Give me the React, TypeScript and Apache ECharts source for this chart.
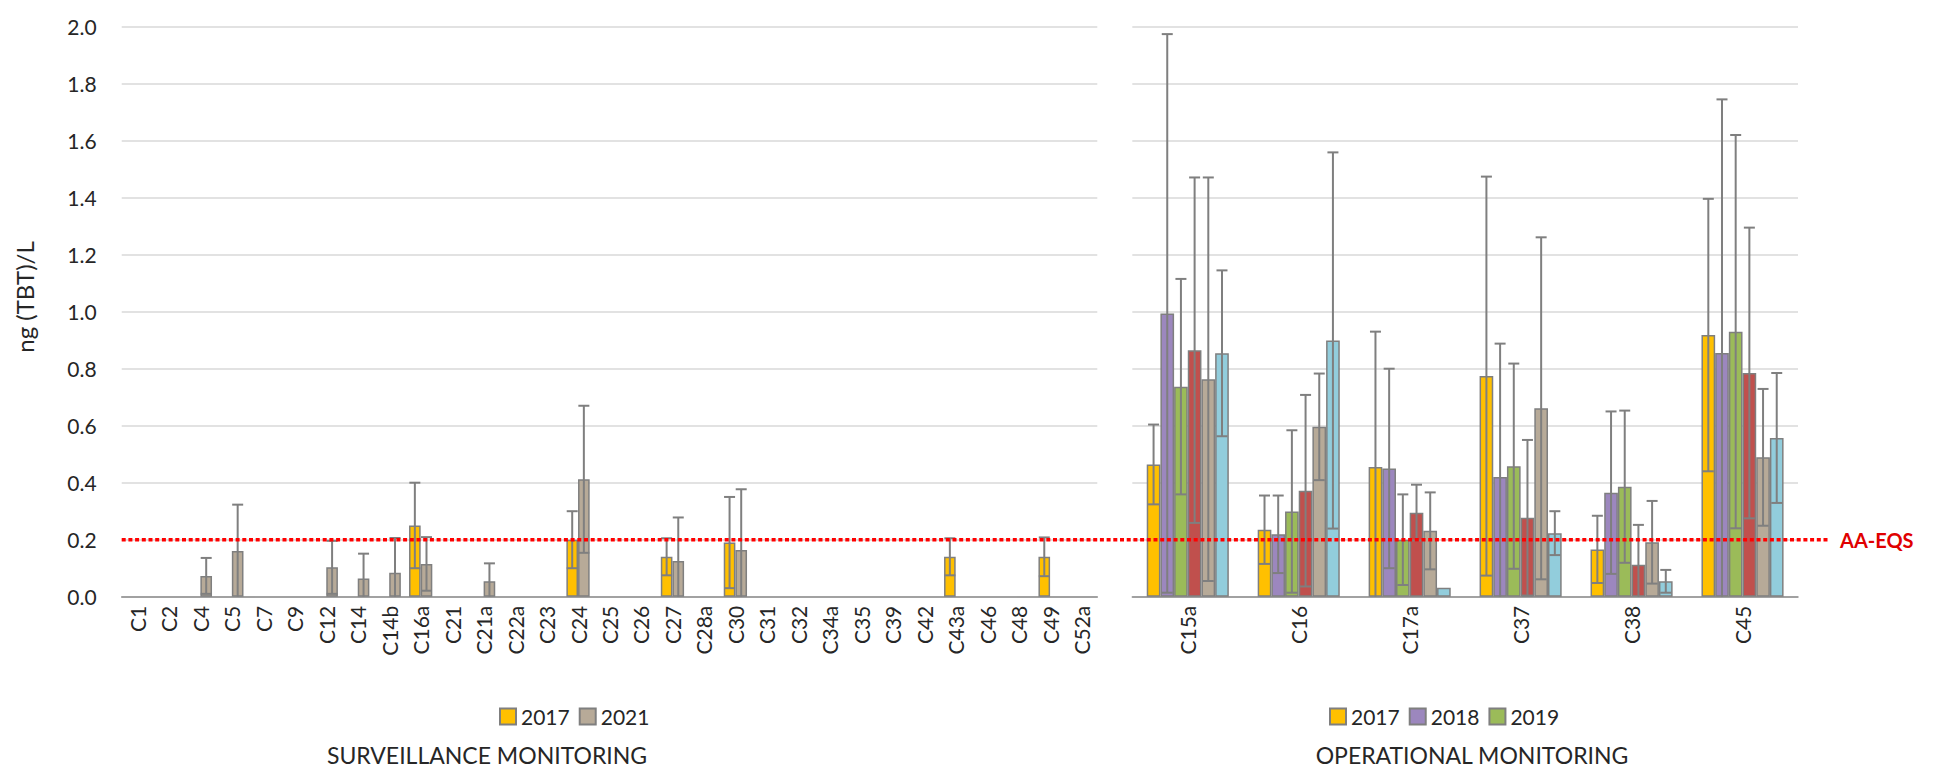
import React, { useEffect, useRef } from "react";
import * as echarts from "echarts";

// ---------- data ----------
const survCategories = ["C1","C2","C4","C5","C7","C9","C12","C14","C14b","C16a","C21","C21a","C22a","C23","C24","C25","C26","C27","C28a","C30","C31","C32","C34a","C35","C39","C42","C43a","C46","C48","C49","C52a"];
const surv2017 =    [null,null,null,null,null,null,null,null,null,0.25,null,null,null,null,0.20,null,null,0.14,null,0.19,null,null,null,null,null,null,0.14,null,null,0.14,null];
const surv2017Err = [null,null,null,null,null,null,null,null,null,0.15,null,null,null,null,0.10,null,null,0.065,null,0.16,null,null,null,null,null,null,0.065,null,null,0.068,null];
const surv2021 =    [null,null,0.073,0.16,null,null,0.103,0.064,0.084,0.115,null,0.054,null,null,0.412,null,null,0.125,null,0.164,null,null,null,null,null,null,null,null,null,null,null];
const surv2021Err = [null,null,0.063,0.163,null,null,0.093,0.087,0.122,0.094,null,0.063,null,null,0.258,null,null,0.153,null,0.213,null,null,null,null,null,null,null,null,null,null,null];

const operCategories = ["C15a","C16","C17a","C37","C38","C45"];
const oper2017 = [0.464, 0.235, 0.455, 0.774, 0.166, 0.918];
const oper2017Err = [0.14, 0.12, 0.475, 0.70, 0.118, 0.478];
const oper2018 = [0.994, 0.219, 0.45, 0.42, 0.365, 0.855];
const oper2018Err = [0.98, 0.136, 0.35, 0.468, 0.285, 0.89];
const oper2019 = [0.737, 0.299, 0.2, 0.458, 0.386, 0.93];
const oper2019Err = [0.378, 0.285, 0.159, 0.36, 0.267, 0.69];
const oper2020 = [0.865, 0.372, 0.295, 0.277, 0.112, 0.785];
const oper2020Err = [0.606, 0.336, 0.098, 0.273, 0.14, 0.51];
const oper2021 = [0.763, 0.596, 0.231, 0.661, 0.191, 0.489];
const oper2021Err = [0.708, 0.187, 0.135, 0.6, 0.145, 0.24];
const oper2022 = [0.854, 0.899, 0.031, 0.223, 0.054, 0.557];
const oper2022Err = [0.291, 0.66, 0, 0.077, 0.04, 0.228];

const yTicks = { min: 0, max: 2, interval: 0.2 };
const AA_EQS = 0.2;

const survLegend = ["2017", "2021"];
const operLegend = ["2017", "2018", "2019"];

// ---------- styles ----------
const COLORS: Record<string, string> = {
  "2017": "#FFC000",
  "2018": "#9C87BE",
  "2019": "#9BBB59",
  "2020": "#C0504D",
  "2021": "#B7AA98",
  "2022": "#92CDDC",
};
const FONT = "Lato, 'Liberation Sans', sans-serif";
const TEXT = "#262626";
const GRAY = "#7F7F7F";
const CAT_GAP = 0.26;

type Row = [number, number, number];

function errData(vals: (number | null)[], errs: (number | null)[]): Row[] {
  const out: Row[] = [];
  vals.forEach((v, i) => {
    const e = errs[i];
    if (v != null && e != null && e > 0) out.push([i, v, e]);
  });
  return out;
}

function errSeries(axis: number, k: number, n: number, data: Row[]) {
  return {
    type: "custom",
    xAxisIndex: axis,
    yAxisIndex: axis,
    z: 5,
    silent: true,
    encode: { x: 0, y: 1 },
    data,
    renderItem: (params: any, api: any) => {
      const cat = api.value(0);
      const v = api.value(1);
      const e = api.value(2);
      const base = api.coord([cat, 0]);
      const band = api.size([1, 0])[0];
      const groupW = band * (1 - CAT_GAP);
      const bw = groupW / n;
      const x = base[0] - groupW / 2 + bw * (k + 0.5);
      const yHi = api.coord([cat, v + e])[1];
      const lo = v - e;
      const yLo = api.coord([cat, Math.max(lo, 0)])[1];
      const cap = 5.5;
      const st = { stroke: GRAY, lineWidth: 2 };
      const children: any[] = [
        { type: "line", shape: { x1: x, y1: yLo, x2: x, y2: yHi }, style: st },
        { type: "line", shape: { x1: x - cap, y1: yHi, x2: x + cap, y2: yHi }, style: st },
      ];
      if (lo >= 0) {
        children.push({ type: "line", shape: { x1: x - cap, y1: yLo, x2: x + cap, y2: yLo }, style: st });
      }
      return { type: "group", children };
    },
  };
}

function barSeries(name: string, axis: number, data: (number | null)[]) {
  return {
    type: "bar",
    name,
    xAxisIndex: axis,
    yAxisIndex: axis,
    data: data.map((v) => (v == null ? "-" : v)),
    barGap: "0%",
    barCategoryGap: `${CAT_GAP * 100}%`,
    itemStyle: { color: COLORS[name], borderColor: GRAY, borderWidth: 1.5 },
    z: 2,
  };
}

const W = 1949;
const H = 773;
const PLOT_TOP = 26.7;
const PLOT_BOTTOM = 596.7;
const LEFT_X0 = 121.7;
const LEFT_X1 = 1097.3;
const RIGHT_X0 = 1132.3;
const RIGHT_X1 = 1798;

export default function App() {
  const ref = useRef<HTMLDivElement>(null);

  useEffect(() => {
    document.body.style.margin = "0";
    if (!ref.current) return;
    const chart = echarts.init(ref.current, undefined, { renderer: "svg" });

    const xAxisCommon = (cats: string[], grid: number) => ({
      type: "category",
      gridIndex: grid,
      data: cats,
      axisLine: { lineStyle: { color: "#8C8C8C", width: 1.5 } },
      axisTick: { length: 7, lineStyle: { color: "#8C8C8C", width: 1.5 } },
      axisLabel: { rotate: 90, interval: 0, fontSize: 21, fontFamily: FONT, color: TEXT, margin: 9 },
    });
    const yAxisCommon = (grid: number, showLabels: boolean) => ({
      type: "value",
      gridIndex: grid,
      min: yTicks.min,
      max: yTicks.max,
      interval: yTicks.interval,
      axisLine: { show: false },
      axisTick: { show: false },
      splitLine: { lineStyle: { color: "#D9D9D9", width: 1.5 } },
      axisLabel: {
        show: showLabels,
        fontSize: 21,
        fontFamily: FONT,
        color: TEXT,
        margin: 25,
        formatter: (v: number) => v.toFixed(1),
      },
    });

    const legendCommon = {
      itemWidth: 16,
      itemHeight: 16,
      itemGap: 9,
      icon: "rect",
      textStyle: { fontSize: 21, fontFamily: FONT, color: TEXT },
      selectedMode: false,
    };

    const option: any = {
      animation: false,
      grid: [
        { left: LEFT_X0, right: W - LEFT_X1, top: PLOT_TOP, bottom: H - PLOT_BOTTOM },
        { left: RIGHT_X0, right: W - RIGHT_X1, top: PLOT_TOP, bottom: H - PLOT_BOTTOM },
      ],
      xAxis: [xAxisCommon(survCategories, 0), xAxisCommon(operCategories, 1)],
      yAxis: [yAxisCommon(0, true), yAxisCommon(1, false)],
      legend: [
        { ...legendCommon, data: survLegend, left: 494, top: 701 },
        { ...legendCommon, data: operLegend, left: 1324, top: 701 },
      ],
      series: [
        barSeries("2017", 0, surv2017),
        barSeries("2021", 0, surv2021),
        errSeries(0, 0, 2, errData(surv2017, surv2017Err)),
        errSeries(0, 1, 2, errData(surv2021, surv2021Err)),
        barSeries("2017", 1, oper2017),
        barSeries("2018", 1, oper2018),
        barSeries("2019", 1, oper2019),
        barSeries("2020", 1, oper2020),
        barSeries("2021", 1, oper2021),
        barSeries("2022", 1, oper2022),
        errSeries(1, 0, 6, errData(oper2017, oper2017Err)),
        errSeries(1, 1, 6, errData(oper2018, oper2018Err)),
        errSeries(1, 2, 6, errData(oper2019, oper2019Err)),
        errSeries(1, 3, 6, errData(oper2020, oper2020Err)),
        errSeries(1, 4, 6, errData(oper2021, oper2021Err)),
        errSeries(1, 5, 6, errData(oper2022, oper2022Err)),
      ],
    };
    chart.setOption(option);

    const yLine = chart.convertToPixel({ yAxisIndex: 0 } as any, AA_EQS) as number;
    chart.setOption({
      graphic: [
        {
          type: "line",
          z: 10,
          shape: { x1: LEFT_X0, y1: yLine, x2: 1828, y2: yLine },
          style: { stroke: "#FF0000", lineWidth: 3.5, lineDash: [4, 2.7] },
        },
        {
          type: "text",
          x: 1840,
          y: yLine,
          style: {
            text: "AA-EQS",
            fill: "#E00000",
            font: `bold 20px ${FONT}`,
            textVerticalAlign: "middle",
          },
        },
        {
          type: "text",
          x: 24,
          y: 297,
          rotation: Math.PI / 2,
          style: {
            text: "ng (TBT)/L",
            fill: TEXT,
            font: `24px ${FONT}`,
            textAlign: "center",
            textVerticalAlign: "middle",
          },
        },
        {
          type: "text",
          x: 487,
          y: 755,
          style: {
            text: "SURVEILLANCE MONITORING",
            fill: TEXT,
            font: `23px ${FONT}`,
            textAlign: "center",
            textVerticalAlign: "middle",
          },
        },
        {
          type: "text",
          x: 1472,
          y: 755,
          style: {
            text: "OPERATIONAL MONITORING",
            fill: TEXT,
            font: `23px ${FONT}`,
            textAlign: "center",
            textVerticalAlign: "middle",
          },
        },
      ],
    });

    return () => chart.dispose();
  }, []);

  return <div ref={ref} style={{ width: W, height: H }} />;
}
